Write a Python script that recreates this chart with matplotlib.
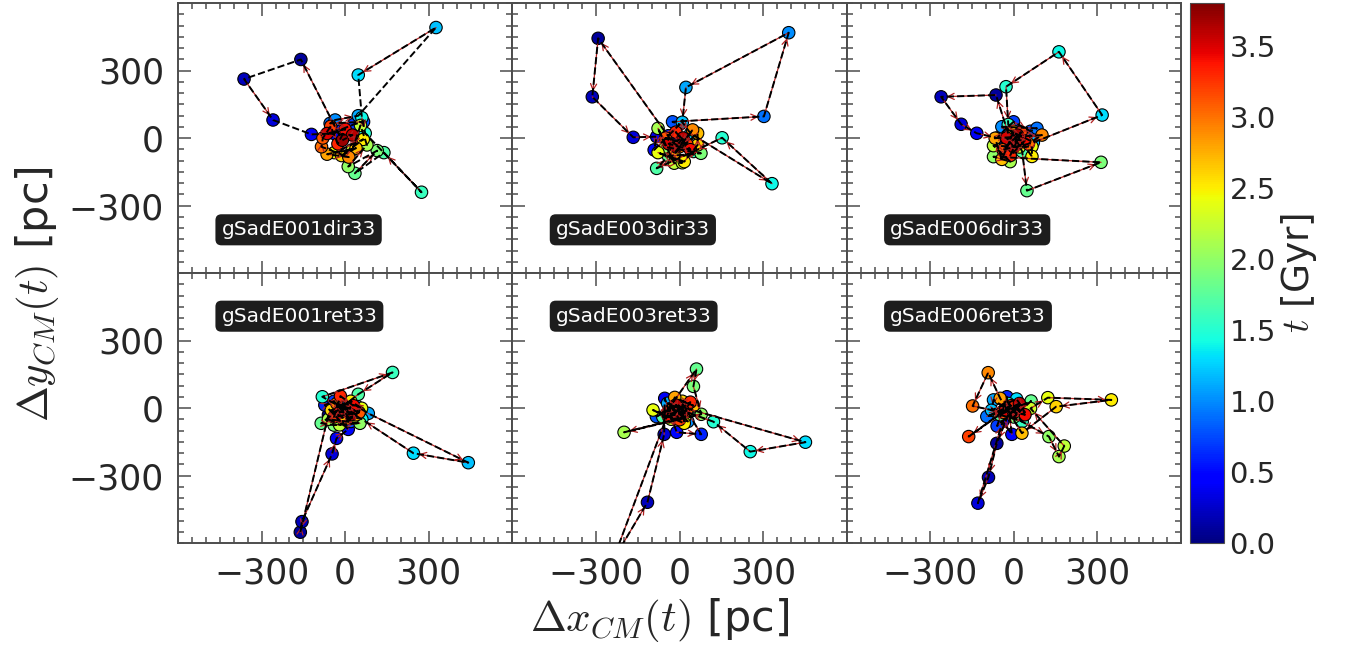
import matplotlib
matplotlib.use("Agg")
import matplotlib.pyplot as plt
from matplotlib.patches import FancyArrowPatch
from matplotlib.ticker import MultipleLocator, FixedLocator

# snapshot times [Gyr]
TIME = [0.0, 0.1, 0.2, 0.3, 0.4, 0.5, 0.6, 0.7, 0.8, 0.9,
        1.0, 1.1, 1.2, 1.3, 1.4, 1.5, 1.6, 1.7, 1.8, 1.9,
        2.0, 2.1, 2.2, 2.3, 2.4, 2.5, 2.6, 2.7, 2.8, 2.9,
        3.0, 3.1, 3.2, 3.3, 3.4, 3.5, 3.6, 3.7]

# centre-of-mass offsets [pc], one entry per snapshot
X_E001DIR = [-20, -159, -363, -259, -121, -40, -10, 30, 66, -54,
             -36, 47, 326, 47, 60, 72, 274, 139, 35, 115,
             11, 78, 55, 26, -39, 65, -13, 39, -65, 13,
             -85, -80, -52, -26, 0, -65, 26, -10]
Y_E001DIR = [10, 349, 262, 80, 16, 20, 40, 60, 72, 65,
             80, 99, 491, 280, 90, 21, -241, -65, -157, -56,
             -127, -31, 56, -52, -65, -6, -78, -45, -72, -85,
             -39, 0, 52, -26, 39, 20, 13, -10]

X_E003DIR = [-30, -292, -313, -166, -82, -91, -40, 0, -25, 303,
             392, 23, 10, 40, 332, 153, 50, -82, -40, 77,
             -50, -77, -19, 10, -77, 17, 65, 65, -20, 47,
             0, -50, 26, -13, 39, -39, 13, -13]
Y_E003DIR = [-10, 443, 183, 3, 6, -53, 10, 60, 72, 96,
             468, 225, 70, 20, -203, 1, -60, -135, -80, -68,
             -40, 43, -112, -110, -65, -105, -31, 21, -70, 36,
             -39, 0, -26, 26, -52, -26, 0, -39]

X_E006DIR = [-20, -64, -261, -189, -133, -60, -30, -1, 60, 83,
             -43, 40, 70, 317, 162, -28, -20, 30, 47, 313,
             -73, -13, -73, 20, 65, 65, 0, -43, -67, 101,
             52, -39, 26, -13, 39, -26, 0, 13]
Y_E006DIR = [20, 191, 183, 61, 21, 0, 40, 72, 30, 43,
             50, 0, -20, 102, 383, 228, 60, -60, -234, -108,
             -83, -105, -34, -40, -38, -82, 30, -95, -1, 13,
             -26, -52, 26, -78, -13, 0, -39, 13]

X_E001RET = [-60, -161, -155, -47, -31, 11, -73, -40, 20, -20,
             40, 83, 442, 245, 60, -82, 170, 47, -86, -40,
             53, -60, -20, 30, 59, 20, -50, 0, 40, -30,
             10, 50, -40, -17, 30, -20, 0, 20]
Y_E001RET = [-30, -552, -505, -204, -135, -95, 13, 30, -60, 20,
             10, -24, -243, -201, -50, 50, 158, 61, -68, -76,
             -68, -50, -75, -40, -1, 30, -10, -50, -30, 20,
             0, -20, -40, 53, 10, -20, -10, -30]

X_E003RET = [-40, -240, -115, -55, -53, -10, 78, 10, -83, -20,
             30, -43, 20, 452, 254, 122, 30, -60, 61, 50,
             78, -199, 20, -30, -95, 17, 10, 50, -17, -40,
             26, -26, 0, 39, -39, 13, -13, 0]
Y_E003RET = [-20, -680, -419, -117, 43, -108, -117, 20, -38, 10,
             -60, 21, 0, -152, -194, -61, -20, -40, 173, 96,
             -28, -108, -40, -50, -9, -68, 30, 10, 47, -26,
             -13, 0, -52, 26, -39, -13, 13, -26]

X_E006RET = [-20, -61, -91, -129, -40, -7, -25, -60, 20, -97,
             -30, -73, -80, 10, 40, -20, 30, -50, 62, 0,
             126, 162, 181, 60, 122, 350, 152, 29, -49, -92,
             -148, -40, -162, -10, 40, -30, 20, 0]
Y_E006RET = [-30, -157, -308, -423, -60, -117, 50, -80, 10, -38,
             0, 36, -10, 40, -20, 20, -60, -30, 31, -40,
             -127, -216, -169, -2, 46, 36, 6, -112, 43, 157,
             9, -20, -127, 10, -30, -10, 20, -20]

RUNS = ["gSadE001dir33", "gSadE003dir33", "gSadE006dir33",
        "gSadE001ret33", "gSadE003ret33", "gSadE006ret33"]
XS = [X_E001DIR, X_E003DIR, X_E006DIR, X_E001RET, X_E003RET, X_E006RET]
YS = [Y_E001DIR, Y_E003DIR, Y_E006DIR, Y_E001RET, Y_E003RET, Y_E006RET]
ARROW_EVERY = [2, 1, 1, 1, 1, 1]  # first run only has every other step marked

TEXT = "#262626"
EDGE = "#4d4d4d"
plt.rcParams["font.family"] = "DejaVu Sans"
plt.rcParams["mathtext.fontset"] = "cm"
plt.rcParams["text.color"] = TEXT

fig = plt.figure(figsize=(13.52, 6.46), dpi=100)

left, right = 178 / 1352, 1181 / 1352
bottom, top = 1 - 543 / 646, 1 - 3 / 646
pw = (right - left) / 3
ph = (top - bottom) / 2

cmap = plt.get_cmap("jet")
vmin, vmax = 0.0, 3.8

for i, (name, xs, ys) in enumerate(zip(RUNS, XS, YS)):
    row, col = divmod(i, 3)
    ax = fig.add_axes([left + col * pw, bottom + (1 - row) * ph, pw, ph])

    sc = ax.scatter(xs, ys, c=TIME, cmap=cmap, vmin=vmin, vmax=vmax,
                    s=80, edgecolors="black", linewidths=0.8, zorder=2)

    # path between consecutive snapshots: thin red arrows + black dashes
    for k in range(len(xs) - 1):
        p0, p1 = (xs[k], ys[k]), (xs[k + 1], ys[k + 1])
        if k % ARROW_EVERY[i] == 0:
            arr = FancyArrowPatch(p0, p1, arrowstyle="->", mutation_scale=11,
                                  color="firebrick", lw=0.9,
                                  shrinkA=0, shrinkB=4, zorder=3)
            ax.add_patch(arr)
    ax.plot(xs, ys, ls="--", color="black", lw=1.4, zorder=3.5)

    ax.set_xlim(-600, 600)
    ax.set_ylim(-600, 600)
    ax.xaxis.set_major_locator(FixedLocator([-300, 0, 300]))
    ax.yaxis.set_major_locator(FixedLocator([-300, 0, 300]))
    ax.xaxis.set_minor_locator(MultipleLocator(50))
    ax.yaxis.set_minor_locator(MultipleLocator(50))
    ax.tick_params(which="both", direction="in", top=True, right=True,
                   color=EDGE, labelcolor=TEXT, labelsize=25, width=1.1)
    ax.tick_params(which="major", length=9, pad=10)
    ax.tick_params(which="minor", length=4.5)
    if row == 0:
        ax.tick_params(labelbottom=False)
    if col > 0:
        ax.tick_params(labelleft=False)
    for sp in ax.spines.values():
        sp.set_color(EDGE)
        sp.set_linewidth(1.4)

    ty = 0.16 if row == 0 else 0.84
    ax.text(0.13, ty, name, transform=ax.transAxes, ha="left", va="center",
            color="white", fontsize=14.5, zorder=5,
            bbox=dict(boxstyle="round,pad=0.3", fc="#111111", ec="none", alpha=0.95))

cax = fig.add_axes([1190 / 1352, bottom, 34 / 1352, top - bottom])
cb = fig.colorbar(sc, cax=cax)
cb.set_ticks([0.0, 0.5, 1.0, 1.5, 2.0, 2.5, 3.0, 3.5])
cb.ax.tick_params(labelsize=21, length=0, labelcolor=TEXT, pad=4)
cb.outline.set_edgecolor(EDGE)
cb.set_label(r"$t$ [Gyr]", fontsize=27, color=TEXT, labelpad=2)

fig.text(0.488, 0.04, r"$\Delta x_{CM}(t)$ [pc]", ha="center", va="center", fontsize=31)
fig.text(0.027, 0.545, r"$\Delta y_{CM}(t)$ [pc]", ha="center", va="center",
         rotation=90, fontsize=31)

fig.savefig("out.png", dpi=100)
